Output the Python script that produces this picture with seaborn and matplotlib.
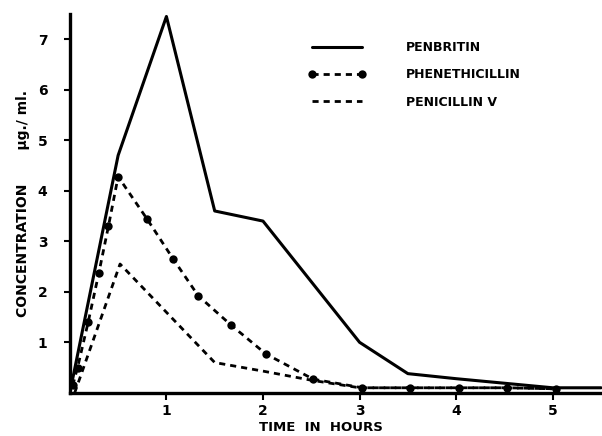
import pandas as pd
import matplotlib.pyplot as plt
import seaborn as sns

# values (hours, microgram/ml)
penbritin_t = [0.0, 0.5, 1.0, 1.5, 2.0, 3.0, 3.5, 4.0, 4.5, 5.0, 5.5]
penbritin_c = [0.0, 4.7, 7.45, 3.6, 3.4, 1.0, 0.38, 0.28, 0.19, 0.1, 0.1]

phenethicillin_t = [0.03, 0.08, 0.19, 0.3, 0.4, 0.5, 0.8, 1.07, 1.33, 1.67, 2.03, 2.52, 3.03, 3.52, 4.03, 4.53, 5.03]
phenethicillin_c = [0.15, 0.5, 1.4, 2.37, 3.3, 4.28, 3.44, 2.65, 1.92, 1.34, 0.77, 0.27, 0.1, 0.1, 0.1, 0.1, 0.08]

penicillin_t = [0.05, 0.52, 1.5, 2.0, 2.5, 3.0, 3.5, 4.0, 4.5, 5.0]
penicillin_c = [0.0, 2.55, 0.6, 0.43, 0.25, 0.1, 0.1, 0.1, 0.1, 0.08]

x_ticks = [1, 2, 3, 4, 5]
y_ticks = [1, 2, 3, 4, 5, 6, 7]

sns.set_style("ticks")
plt.rcParams['font.family'] = ['DejaVu Sans']
plt.rcParams['text.color'] = 'black'
plt.rcParams['axes.labelcolor'] = 'black'
plt.rcParams['xtick.color'] = 'black'
plt.rcParams['ytick.color'] = 'black'

fig = plt.figure(figsize=(6.02, 4.36), dpi=100)
ax = fig.add_axes([0.116, 0.099, 0.884, 0.869])

pen = pd.DataFrame({'t': penbritin_t, 'c': penbritin_c})
phe = pd.DataFrame({'t': phenethicillin_t, 'c': phenethicillin_c})
pv = pd.DataFrame({'t': penicillin_t, 'c': penicillin_c})

sns.lineplot(data=pen, x='t', y='c', sort=False, ax=ax, color='black',
             linewidth=2.2, label='PENBRITIN')
sns.lineplot(data=phe, x='t', y='c', sort=False, ax=ax, color='black',
             linewidth=2.0, linestyle=(0, (2.2, 1.8)),
             marker='o', markersize=6, markeredgewidth=0, label='PHENETHICILLIN')
sns.lineplot(data=pv, x='t', y='c', sort=False, ax=ax, color='black',
             linewidth=2.0, linestyle=(0, (2.2, 1.8)), label='PENICILLIN V')

ax.set_xlim(0, 5.51)
ax.set_ylim(0, 7.5)
ax.set_xticks(x_ticks)
ax.set_yticks(y_ticks)
ax.set_xticklabels([str(v) for v in x_ticks], fontweight='bold', fontsize=10)
ax.set_yticklabels([str(v) for v in y_ticks], fontweight='bold', fontsize=10)
ax.tick_params(axis='y', length=4, width=1.5, pad=12)
ax.tick_params(axis='x', length=5, width=1.5, pad=3)

for side in ['top', 'right']:
    ax.spines[side].set_visible(False)
for side in ['left', 'bottom']:
    ax.spines[side].set_linewidth(2.4)
    ax.spines[side].set_color('black')

ax.set_xlabel('TIME  IN  HOURS', fontweight='bold', fontsize=9.5)
ax.xaxis.set_label_coords(0.472, -0.075)
ax.set_ylabel('CONCENTRATION       \u03bcg./ ml.', fontweight='bold', fontsize=10)
ax.yaxis.set_label_coords(-0.075, 0.50)

leg = ax.legend(loc='upper left', bbox_to_anchor=(0.427, 0.958), frameon=False,
                numpoints=2, handlelength=4.6, handletextpad=3.2,
                labelspacing=1.15, prop={'weight': 'bold', 'size': 9})

fig.savefig('out.png', dpi=100)
